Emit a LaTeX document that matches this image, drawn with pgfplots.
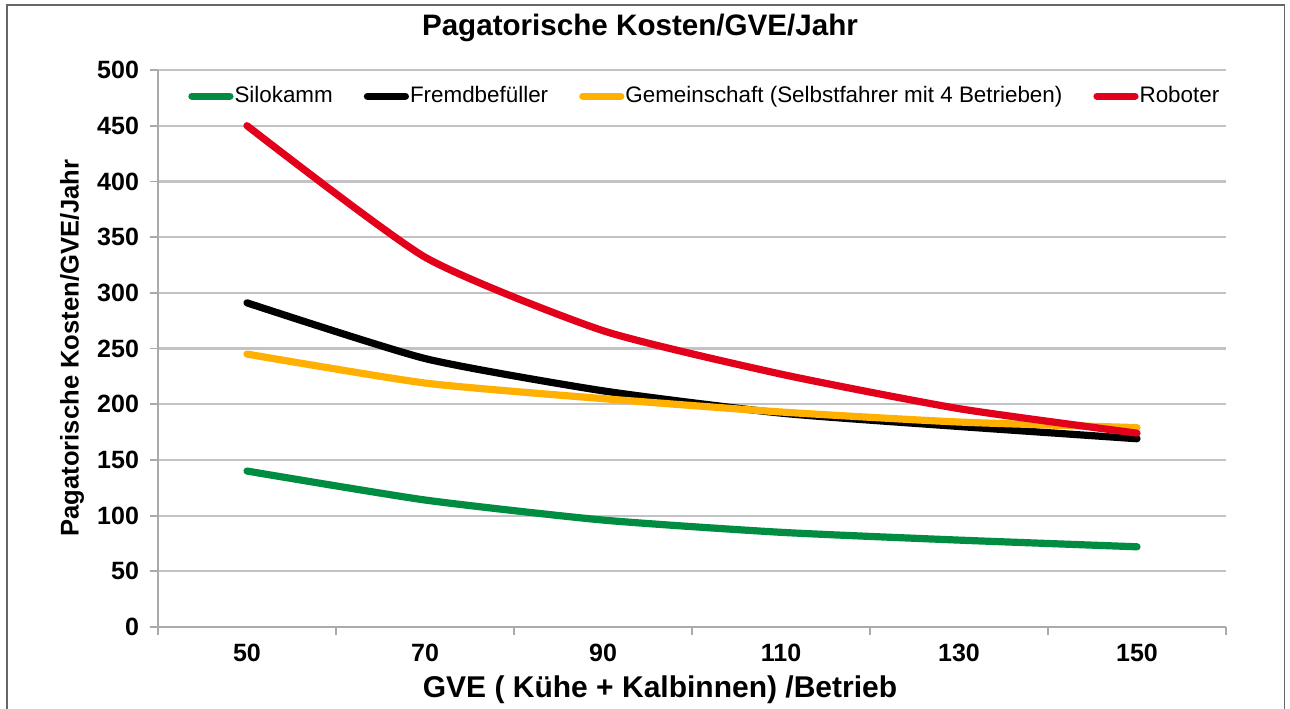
\documentclass[border=0pt]{standalone}
\usepackage{pgfplots}
\pgfplotsset{compat=1.18}
\usepackage{fontspec}
\setmainfont{Liberation Sans}
\definecolor{cgreen}{RGB}{0,140,65}
\definecolor{corange}{RGB}{255,176,0}
\definecolor{cred}{RGB}{226,0,26}
\definecolor{cgrid}{RGB}{195,195,198}
\definecolor{caxis}{RGB}{170,170,172}
\begin{document}
\begin{tikzpicture}
\useasboundingbox (0,0) rectangle (645pt,354pt);
\draw[gray!80!black, line width=0.8pt] (3.5pt,-5pt) -- (3.5pt,351.5pt) -- (642.3pt,351.5pt) -- (642.3pt,-5pt);
\begin{axis}[
  at={(79pt,40.5pt)}, anchor=south west,
  scale only axis, width=534pt, height=278.5pt,
  xmin=40, xmax=160, ymin=0, ymax=500,
  axis x line*=bottom, axis y line*=left,
  axis line style={-, draw=caxis, line width=1pt},
  xtick={40,60,...,160}, xticklabels={},
  extra x ticks={50,70,90,110,130,150},
  extra x tick style={major tick length=0pt, grid=none},
  ytick={0,50,...,500},
  ymajorgrids, grid style={draw=cgrid, line width=1.1pt},
  tick align=outside, major tick length=4pt,
  tick style={draw=caxis, line width=0.9pt},
  /pgf/number format/assume math mode=true,
  ticklabel style={font=\bfseries\fontsize{12.5}{13}\selectfont, text=black},
  yticklabel style={xshift=-2pt},
  xticklabel style={yshift=-5pt},
  legend columns=4,
  legend style={at={(0.028,0.953)}, anchor=west, draw=none, fill=none,
    font=\fontsize{11.2}{12}\selectfont, inner sep=0pt,
    nodes={inner xsep=0.5pt},
    /tikz/every even column/.append style={column sep=15pt}},
  legend image code/.code={\draw[#1] (0pt,0pt) -- (19pt,0pt);},
  every axis plot/.append style={line width=3.6pt, line join=round, line cap=round, smooth, tension=0.35},
  clip=false,
]
\addplot[cgreen] coordinates {(50,140) (70,114) (90,96) (110,85) (130,78) (150,72)};
\addlegendentry{Silokamm}
\addplot[black] coordinates {(50,291) (70,241) (90,212) (110,192) (130,180) (150,169)};
\addlegendentry{Fremdbefüller}
\addplot[corange] coordinates {(50,245) (70,219) (90,205) (110,193) (130,184) (150,179)};
\addlegendentry{Gemeinschaft (Selbstfahrer mit 4 Betrieben)}
\addplot[cred] coordinates {(50,450) (70,332) (90,266) (110,227) (130,196) (150,174)};
\addlegendentry{Roboter}
\end{axis}
\node[font=\bfseries\fontsize{14.8}{16}\selectfont] at (320pt,340pt) {Pagatorische Kosten/GVE/Jahr};
\node[font=\bfseries\fontsize{15}{16}\selectfont] at (330pt,9pt) {GVE ( Kühe + Kalbinnen) /Betrieb};
\node[font=\bfseries\fontsize{12.8}{14}\selectfont, rotate=90] at (36pt,180pt) {Pagatorische Kosten/GVE/Jahr};
\end{tikzpicture}
\end{document}
